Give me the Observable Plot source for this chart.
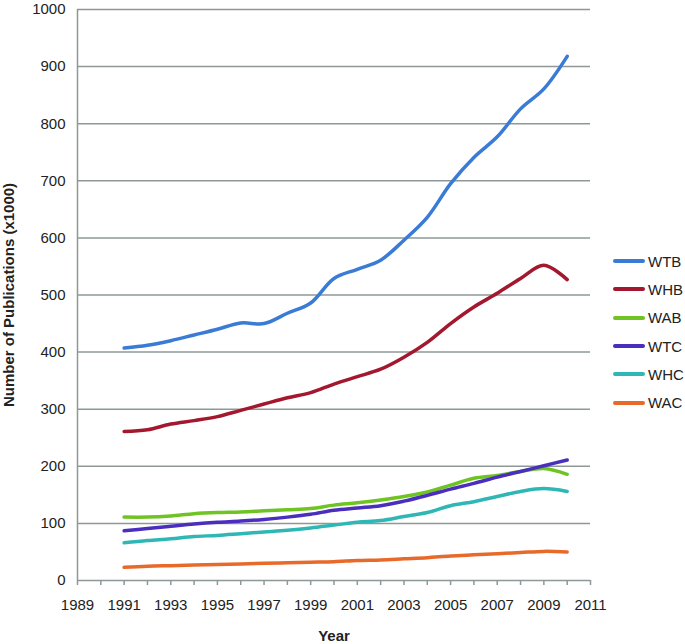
<!DOCTYPE html>
<html>
<head>
<meta charset="utf-8">
<script src="https://cdn.jsdelivr.net/npm/d3@7"></script>
<script src="https://cdn.jsdelivr.net/npm/@observablehq/plot@0.6"></script>
<style>
  html, body { margin: 0; padding: 0; background: #fff; }
  #wrap { position: relative; width: 685px; height: 644px; font-family: "Liberation Sans", Arial, sans-serif; }
  #wrap g[aria-label="y-axis label"] text, #wrap g[aria-label="x-axis label"] text { font-weight: bold; }
  #legend { position: absolute; left: 613px; top: 247px; font-size: 15px; color: #222; }
  #legend .item { display: flex; align-items: center; height: 28.3px; }
  #legend .sw { width: 32px; height: 4px; border-radius: 2px; margin-right: 3px; }
</style>
</head>
<body>
<div id="wrap"></div>
<script>
const years = d3.range(1991, 2011);
const seriesNames = ["WTB", "WHB", "WAB", "WTC", "WHC", "WAC"];
const colors = ["#3a7bd5", "#a3182e", "#6fc424", "#4a2fbe", "#2fb7b5", "#e86a2b"];
const WTB = [407, 412, 420, 430, 440, 451, 450, 468, 486, 529, 545, 561, 596, 636, 695, 741, 777, 826, 861, 918];
const WHB = [261, 264, 274, 280, 287, 298, 309, 320, 329, 344, 357, 370, 391, 417, 450, 479, 503, 529, 552, 527];
const WAB = [111, 111, 113, 117, 119, 120, 122, 124, 126, 132, 136, 141, 147, 155, 167, 179, 184, 191, 196, 186];
const WTC = [87, 91, 95, 99, 102, 104, 107, 111, 116, 123, 127, 131, 139, 149, 160, 170, 181, 191, 201, 211];
const WHC = [66, 70, 73, 77, 79, 82, 85, 88, 92, 97, 102, 105, 112, 119, 131, 138, 147, 156, 161, 156];
const WAC = [23, 25, 26, 27, 28, 29, 30, 31, 32, 33, 35, 36, 38, 40, 43, 45, 47, 49, 51, 50];
const yTicks = d3.range(0, 1001, 100);
const xTicks = d3.range(1989, 2012);

const valuesBySeries = {WTB, WHB, WAB, WTC, WHC, WAC};
const rows = seriesNames.flatMap(s => years.map((yr, i) => ({series: s, year: yr, value: valuesBySeries[s][i]})));

const grey = "#8e9898";
const chart = Plot.plot({
  width: 685,
  height: 644,
  marginLeft: 77,
  marginRight: 95,
  marginTop: 9,
  marginBottom: 64,
  style: {fontFamily: "'Liberation Sans', Arial, sans-serif", fontSize: "15px", color: "#222", background: "#fff"},
  x: {domain: [1989, 2011]},
  y: {domain: [0, 1000]},
  color: {domain: seriesNames, range: colors},
  marks: [
    Plot.gridY(yTicks, {stroke: grey, strokeOpacity: 1, strokeWidth: 1.5}),
    Plot.ruleX([1989], {stroke: grey, strokeWidth: 1.5}),
    Plot.axisY(yTicks, {tickSize: 0, tickPadding: 12, label: "Number of Publications (x1000)", labelAnchor: "center", labelArrow: "none", labelOffset: 74, tickFormat: d => String(d)}),
    Plot.axisX(xTicks, {tickSize: 5, tickPadding: 14, stroke: grey, strokeWidth: 1.5, tickFormat: d => (d - 1989) % 2 === 0 ? String(d) : "", label: "Year", labelAnchor: "center", labelArrow: "none", labelOffset: 60}),
    Plot.lineY(rows, {x: "year", y: "value", z: "series", stroke: "series", strokeWidth: 3.5, curve: "catmull-rom"})
  ]
});
document.getElementById("wrap").appendChild(chart);

const legend = document.createElement("div");
legend.id = "legend";
seriesNames.forEach((s, i) => {
  const it = document.createElement("div");
  it.className = "item";
  it.innerHTML = `<span class="sw" style="background:${colors[i]}"></span><span>${s}</span>`;
  legend.appendChild(it);
});
document.getElementById("wrap").appendChild(legend);
</script>
</body>
</html>
